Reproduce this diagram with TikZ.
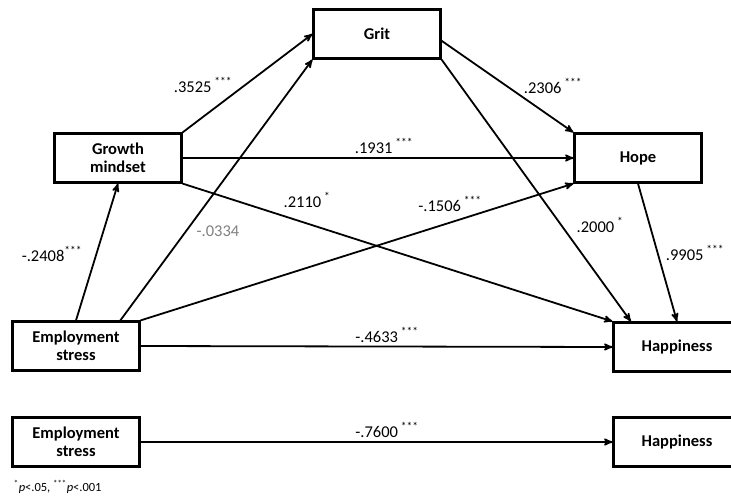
\documentclass[tikz,border=0pt]{standalone}
\usepackage{fontspec}
\setmainfont{Carlito}
\usepackage{tikz}
\usetikzlibrary{arrows,positioning,calc}
\tikzset{box/.style={draw,rectangle,line width=2.2pt,minimum width=127pt,minimum height=49pt,align=center,font=\fontsize{16.5}{17.5}\selectfont\bfseries,inner sep=0pt}}
\tikzset{coef/.style={font=\fontsize{16.5}{17.5}\selectfont,inner sep=0pt}}

\begin{document}
\begin{tikzpicture}[x=1pt, y=-1pt, ->, >=stealth', line width=1.8pt]
    \useasboundingbox (0,0) rectangle (731,500);
    \node[box] (grit) at (377,34) {Grit};
    \node[box] (gm) at (118,158) {Growth\\mindset};
    \node[box] (hope) at (638,158) {Hope};
    \node[box] (es) at (76,346) {Employment\\stress};
    \node[box] (hap) at (677,347) {Happiness};
    
    \node[box] (es2) at (76,442) {Employment\\stress};
    \node[box] (hap2) at (677,442) {Happiness};

    \path (gm.north east) edge node {} (grit.west);
    \path (es.30) edge node {} (grit.south west);
    \path (es.north) edge node {} (gm.south);
    \path (es.north east) edge node {} (hope.south west);
    \path (gm.east) edge node {} (hope.west);
    \path (gm.south east) edge node {} (hap.north west);
    \path (grit.-6) edge node {} (hope.north west);
    \path (grit.south east) edge node {} (hap.151);
    \path (hope.south) edge node {} (hap.north);
    \path (es.east) edge node {} (hap.west);
    
    \path (es2.east) edge node {} (hap2.west);

    % coefficients
    \node[coef] (c1) at (203,85) {.3525\,\textsuperscript{***}};
    \node[coef] (c2) at (553,86) {.2306\,\textsuperscript{***}};
    \node[coef] (c3) at (384,146) {.1931\,\textsuperscript{***}};
    \node[coef] (c4) at (307,200) {.2110\,\textsuperscript{*}};
    \node[coef, text=gray] (c5) at (218,231) {-.0334};
    \node[coef] (c6) at (450,204) {-.1506\,\textsuperscript{***}};
    \node[coef] (c7) at (600,225) {.2000\,\textsuperscript{*}};
    \node[coef] (c8) at (695,253) {.9905\,\textsuperscript{***}};
    \node[coef] (c9) at (52,254) {-.2408\textsuperscript{***}};
    \node[coef] (c10) at (387,335) {-.4633\,\textsuperscript{***}};
    \node[coef] (c11) at (387,430) {-.7600\,\textsuperscript{***}};
    
    \node[coef, anchor=west, font=\fontsize{12.5}{13}\selectfont] (note) at (13,487) {\textsuperscript{*}\textit{p}<.05, \textsuperscript{***}\textit{p}<.001};
\end{tikzpicture}
\end{document}
